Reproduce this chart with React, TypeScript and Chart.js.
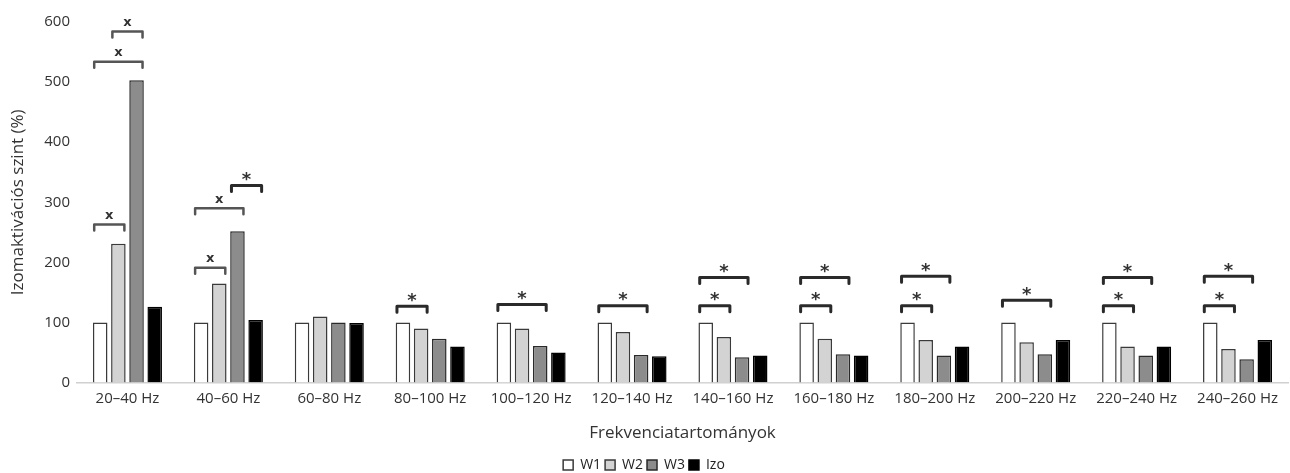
import React, { useEffect, useRef } from "react";
import { Chart, registerables } from "chart.js";

Chart.register(...registerables);

const categories = [
  "20–40 Hz", "40–60 Hz", "60–80 Hz", "80–100 Hz", "100–120 Hz", "120–140 Hz",
  "140–160 Hz", "160–180 Hz", "180–200 Hz", "200–220 Hz", "220–240 Hz", "240–260 Hz",
];
const seriesNames = ["W1", "W2", "W3", "Izo"];
const w1 = [100, 100, 100, 100, 100, 100, 100, 100, 100, 100, 100, 100];
const w2 = [231, 165, 110, 90, 90, 84, 76, 73, 71, 67, 60, 56];
const w3 = [503, 252, 100, 73, 61, 46, 42, 47, 45, 47, 45, 39];
const izo = [126, 104, 99, 60, 50, 44, 45, 45, 60, 71, 60, 71];
const yTicks = [0, 100, 200, 300, 400, 500, 600];

// significance brackets: [category index, from series, to series, level, symbol]
const brackets: [number, number, number, number, string][] = [
  [0, 0, 1, 263, "x"], [0, 0, 2, 534, "x"], [0, 1, 2, 584, "x"],
  [1, 0, 1, 191, "x"], [1, 0, 2, 290, "x"], [1, 2, 3, 328, "*"],
  [3, 0, 1, 127, "*"], [4, 0, 2, 130, "*"], [5, 0, 2, 128, "*"],
  [6, 0, 1, 128, "*"], [6, 0, 2, 175, "*"],
  [7, 0, 1, 128, "*"], [7, 0, 2, 175, "*"],
  [8, 0, 1, 128, "*"], [8, 0, 2, 177, "*"],
  [9, 0, 2, 137, "*"],
  [10, 0, 1, 128, "*"], [10, 0, 2, 175, "*"],
  [11, 0, 1, 128, "*"], [11, 0, 2, 177, "*"],
];

const fills = ["#ffffff", "#d3d3d3", "#8c8c8c", "#000000"];
const borders = ["#3a3a3a", "#3a3a3a", "#2a2a2a", "#000000"];

const bracketPlugin = {
  id: "brackets",
  afterDatasetsDraw(chart: any) {
    const ctx = chart.ctx;
    const ys = chart.scales.y;
    ctx.save();
    brackets.forEach(([ci, a, b, lvl, sym]) => {
      const ba = chart.getDatasetMeta(a).data[ci];
      const bb = chart.getDatasetMeta(b).data[ci];
      const x1 = ba.x - 6;
      const x2 = bb.x + 6;
      const y = ys.getPixelForValue(lvl);
      ctx.strokeStyle = sym === "*" ? "#2a2a2a" : "#555555";
      ctx.lineWidth = sym === "*" ? 3 : 2.5;
      ctx.lineCap = "round";
      ctx.lineJoin = "round";
      ctx.beginPath();
      ctx.moveTo(x1, y + 6);
      ctx.lineTo(x1, y);
      ctx.lineTo(x2, y);
      ctx.lineTo(x2, y + 6);
      ctx.stroke();
      ctx.fillStyle = "#333333";
      ctx.textAlign = "center";
      ctx.textBaseline = "middle";
      if (sym === "*") {
        ctx.font = "bold 18px 'DejaVu Sans'";
        ctx.fillText("*", (x1 + x2) / 2, y - 5);
      } else {
        ctx.font = "bold 13px 'DejaVu Sans'";
        ctx.fillText("x", (x1 + x2) / 2, y - 9);
      }
    });
    ctx.restore();
  },
};

export default function App() {
  const ref = useRef<HTMLCanvasElement | null>(null);
  useEffect(() => {
    if (!ref.current) return;
    const values = [w1, w2, w3, izo];
    const chart = new Chart(ref.current, {
      type: "bar",
      data: {
        labels: categories,
        datasets: seriesNames.map((n, i) => ({
          label: n,
          data: values[i],
          backgroundColor: fills[i],
          borderColor: borders[i],
          borderWidth: 1.5,
          categoryPercentage: 0.72,
          barPercentage: 0.8,
        })),
      },
      options: {
        animation: false,
        responsive: false,
        maintainAspectRatio: false,
        layout: { padding: { top: 22, right: 2, left: 0, bottom: -9 } },
        plugins: {
          legend: {
            position: "bottom",
            labels: {
              boxWidth: 10,
              boxHeight: 10,
              padding: 4,
              color: "#222",
              font: { family: "'Open Sans'", size: 14 },
            },
          },
          tooltip: { enabled: false },
        },
        scales: {
          x: {
            grid: { display: false, drawTicks: false },
            border: { display: true, color: "#d0d0d0", width: 1.5 },
            ticks: { color: "#333", padding: 7, font: { family: "'Open Sans'", size: 15 }, maxRotation: 0, autoSkip: false },
            title: { display: true, text: "Frekvenciatartományok", color: "#333", font: { family: "'Open Sans'", size: 17 }, padding: { top: 8, bottom: 11 } },
          },
          y: {
            min: 0,
            max: 600,
            afterBuildTicks: (s: any) => { s.ticks = yTicks.map((v) => ({ value: v })); },
            afterFit: (s: any) => { s.width = 77; },
            grid: { display: false, drawTicks: false },
            border: { display: false },
            ticks: { color: "#333", padding: 7, font: { family: "'Open Sans'", size: 15 } },
            title: { display: true, text: "Izomaktivációs szint (%)", color: "#333", font: { family: "'Open Sans'", size: 17 }, padding: { top: 8, bottom: 2 } },
          },
        },
      },
      plugins: [bracketPlugin],
    });
    return () => chart.destroy();
  }, []);
  return (
    <div style={{ position: "fixed", left: 0, top: 0, width: 1290, height: 473, background: "#fff" }}>
      <canvas ref={ref} width={1290} height={473} style={{ width: 1290, height: 473 }} />
    </div>
  );
}
